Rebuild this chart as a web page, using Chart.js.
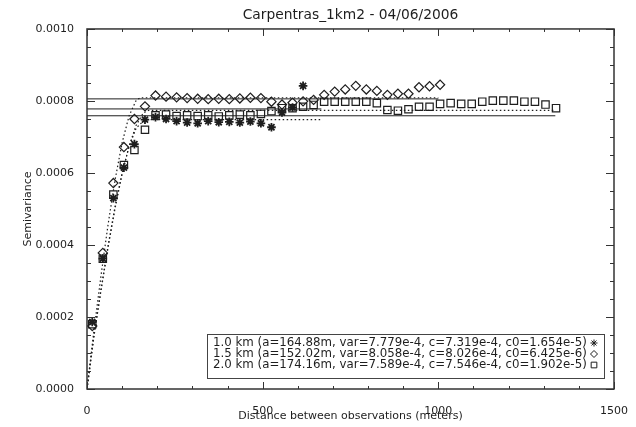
<!DOCTYPE html>
<html>
<head>
<meta charset="utf-8">
<script src="https://cdn.jsdelivr.net/npm/chart.js@4.4.1/dist/chart.umd.min.js"></script>
<style>
  html, body { margin: 0; padding: 0; background: #fff; }
  #wrap { width: 636px; height: 427px; }
</style>
</head>
<body>
<div id="wrap"><canvas id="vario" width="636" height="427"></canvas></div>
<script>
// window sizes and fitted spherical model parameters
var sizes = ['1.0 km', '1.5 km', '2.0 km'];
var ranges = [164.88, 152.02, 174.16];
var variances = [7.779e-4, 8.058e-4, 7.589e-4];
var sills = [7.319e-4, 8.026e-4, 7.546e-4];
var nuggets = [1.654e-5, 6.425e-6, 1.902e-5];
var maxLags = [667, 1000, 1333];

// experimental semivariogram, 1.0 km window
var lag10 = [15, 45, 75, 105, 135, 165, 195, 225, 255, 285, 315, 345, 375, 405, 435, 465, 495, 525, 555, 585, 615];
var gamma10 = [1.86e-4, 3.62e-4, 5.30e-4, 6.15e-4, 6.80e-4, 7.48e-4, 7.55e-4, 7.50e-4, 7.44e-4, 7.40e-4, 7.38e-4,
               7.44e-4, 7.41e-4, 7.42e-4, 7.40e-4, 7.43e-4, 7.38e-4, 7.27e-4, 7.68e-4, 7.82e-4, 8.42e-4];

// 1.5 km window
var lag15 = [15, 45, 75, 105, 135, 165, 195, 225, 255, 285, 315, 345, 375, 405, 435, 465, 495, 525, 555, 585, 615,
             645, 675, 705, 735, 765, 795, 825, 855, 885, 915, 945, 975, 1005];
var gamma15 = [1.75e-4, 3.78e-4, 5.72e-4, 6.72e-4, 7.50e-4, 7.85e-4, 8.15e-4, 8.12e-4, 8.10e-4, 8.08e-4, 8.06e-4,
               8.05e-4, 8.06e-4, 8.05e-4, 8.07e-4, 8.09e-4, 8.08e-4, 7.98e-4, 7.90e-4, 7.95e-4, 7.99e-4,
               8.03e-4, 8.17e-4, 8.26e-4, 8.32e-4, 8.42e-4, 8.32e-4, 8.28e-4, 8.17e-4, 8.20e-4, 8.20e-4,
               8.38e-4, 8.41e-4, 8.45e-4];

// 2.0 km window
var lag20 = [15, 45, 75, 105, 135, 165, 195, 225, 255, 285, 315, 345, 375, 405, 435, 465, 495, 525, 555, 585, 615,
             645, 675, 705, 735, 765, 795, 825, 855, 885, 915, 945, 975, 1005, 1035, 1065, 1095, 1125, 1155, 1185,
             1215, 1245, 1275, 1305, 1335];
var gamma20 = [1.80e-4, 3.62e-4, 5.40e-4, 6.22e-4, 6.64e-4, 7.20e-4, 7.60e-4, 7.62e-4, 7.58e-4, 7.60e-4, 7.58e-4,
               7.60e-4, 7.57e-4, 7.60e-4, 7.62e-4, 7.60e-4, 7.64e-4, 7.72e-4, 7.80e-4, 7.80e-4, 7.84e-4,
               7.89e-4, 7.98e-4, 7.98e-4, 7.98e-4, 7.98e-4, 7.98e-4, 7.94e-4, 7.75e-4, 7.73e-4, 7.77e-4,
               7.84e-4, 7.84e-4, 7.92e-4, 7.94e-4, 7.92e-4, 7.92e-4, 7.98e-4, 8.01e-4, 8.01e-4,
               8.01e-4, 7.98e-4, 7.98e-4, 7.90e-4, 7.80e-4];

// fitted models sampled along distance (flat at c0 + c beyond the range)
var modelDist10 = [0, 20, 40, 60, 80, 100, 120, 140, 164.88, 667];
var model10 = [0, 1.491e-4, 2.777e-4, 3.984e-4, 5.074e-4, 6.007e-4, 6.745e-4, 7.247e-4, 7.484e-4, 7.484e-4];
var modelDist15 = [0, 20, 40, 60, 80, 100, 120, 140, 152.02, 1000];
var model15 = [0, 1.639e-4, 3.159e-4, 4.569e-4, 5.815e-4, 6.841e-4, 7.594e-4, 8.017e-4, 8.090e-4, 8.090e-4];
var modelDist20 = [0, 20, 40, 60, 80, 100, 120, 140, 160, 174.16, 1333];
var model20 = [0, 1.484e-4, 2.744e-4, 3.935e-4, 5.024e-4, 5.975e-4, 6.755e-4, 7.329e-4, 7.663e-4, 7.736e-4, 7.736e-4];

var ink = '#1e1e1e';
var markers = ['star', 'rectRot', 'rect'];
var markerSize = [4.3, 4.6, 5.2];

function pts(xs, ys) {
  return xs.map(function (d, i) { return { x: d, y: ys[i] }; });
}

function legendText(i) {
  return sizes[i] + ' (a=' + ranges[i].toFixed(2) + 'm, var=' + variances[i].toExponential(3) +
    ', c=' + sills[i].toExponential(3) + ', c0=' + nuggets[i].toExponential(3) + ')';
}

var lags = [lag10, lag15, lag20];
var gammas = [gamma10, gamma15, gamma20];
var mDist = [modelDist10, modelDist15, modelDist20];
var mVal = [model10, model15, model20];

var datasets = [];
for (var i = 0; i < 3; i++) {
  // sample variance
  datasets.push({
    type: 'line', data: [{ x: 0, y: variances[i] }, { x: maxLags[i], y: variances[i] }],
    borderColor: ink, borderWidth: 1, pointRadius: 0, fill: false
  });
  // fitted spherical model
  datasets.push({
    type: 'line', data: pts(mDist[i], mVal[i]),
    borderColor: ink, borderWidth: 1.2, borderDash: [1.5, 2.5], pointRadius: 0, fill: false
  });
}
for (var j = 0; j < 3; j++) {
  datasets.push({
    label: legendText(j),
    data: pts(lags[j], gammas[j]),
    showLine: false,
    pointStyle: markers[j],
    pointRadius: markerSize[j],
    pointBorderWidth: j === 0 ? 1.8 : 1.2,
    pointBorderColor: ink,
    pointBackgroundColor: 'rgba(255,255,255,0)'
  });
}

// IDL-style box with inward major/minor ticks on all four sides
var frameTicks = {
  id: 'frameTicks',
  afterDraw: function (chart) {
    var ctx = chart.ctx, a = chart.chartArea;
    var xs = chart.scales.x, ys = chart.scales.y;
    ctx.save();
    ctx.strokeStyle = '#333';
    ctx.lineWidth = 1.5;
    ctx.strokeRect(a.left, a.top, a.right - a.left, a.bottom - a.top);
    ctx.lineWidth = 1;
    ctx.beginPath();
    for (var d = 0; d <= 1500; d += 100) {
      var px = Math.round(xs.getPixelForValue(d)) + 0.5;
      var lx = d % 500 === 0 ? 7 : 3;
      ctx.moveTo(px, a.bottom); ctx.lineTo(px, a.bottom - lx);
      ctx.moveTo(px, a.top); ctx.lineTo(px, a.top + lx);
    }
    for (var k = 0; k <= 20; k++) {
      var py = Math.round(ys.getPixelForValue(k * 0.00005)) + 0.5;
      var ly = k % 4 === 0 ? 8 : 4;
      ctx.moveTo(a.left, py); ctx.lineTo(a.left + ly, py);
      ctx.moveTo(a.right, py); ctx.lineTo(a.right - ly, py);
    }
    ctx.stroke();
    ctx.restore();
  }
};

// boxed legend in the lower right, symbol after each line
var boxLegend = {
  id: 'boxLegend',
  afterDraw: function (chart) {
    var ctx = chart.ctx;
    var bx = 207, by = 334, bw = 397, bh = 44;
    ctx.save();
    ctx.fillStyle = '#fff';
    ctx.fillRect(bx, by, bw, bh);
    ctx.strokeStyle = '#444';
    ctx.lineWidth = 1;
    ctx.strokeRect(bx + 0.5, by + 0.5, bw, bh);
    ctx.font = '11.8px "DejaVu Sans"';
    ctx.textBaseline = 'middle';
    var pointSets = chart.data.datasets.slice(6);
    pointSets.forEach(function (ds, n) {
      var ty = by + 9 + n * 11;
      ctx.fillStyle = ink;
      ctx.fillText(ds.label, bx + 6, ty);
      ctx.strokeStyle = ink;
      ctx.fillStyle = 'rgba(255,255,255,0)';
      Chart.helpers.drawPoint(ctx, {
        pointStyle: ds.pointStyle, radius: n === 2 ? 4 : 3.5, borderWidth: n === 0 ? 1.4 : 1, rotation: 0
      }, bx + bw - 10, ty);
    });
    ctx.restore();
  }
};

var axisFont = { family: 'DejaVu Sans', size: 11 };

new Chart(document.getElementById('vario'), {
  type: 'scatter',
  data: { datasets: datasets },
  options: {
    responsive: false,
    animation: false,
    devicePixelRatio: 1,
    layout: { padding: { left: 0, right: 22, top: 0, bottom: 0 } },
    plugins: {
      legend: { display: false },
      tooltip: { enabled: false },
      title: {
        display: true,
        fullSize: false,
        text: 'Carpentras_1km2 - 04/06/2006',
        color: ink,
        font: { family: 'DejaVu Sans', size: 13.8, weight: 'normal' },
        padding: { top: 7, bottom: 5.4 }
      }
    },
    scales: {
      x: {
        type: 'linear', min: 0, max: 1500,
        grid: { display: false }, border: { display: false },
        ticks: { stepSize: 500, padding: 8, maxRotation: 0, color: ink, font: axisFont,
                 callback: function (v) { return String(v); } },
        title: { display: true, text: 'Distance between observations (meters)', color: ink, font: axisFont, padding: { top: 0, bottom: 4 } },
        afterFit: function (s) { s.height = 38; }
      },
      y: {
        type: 'linear', min: 0, max: 0.001,
        grid: { display: false }, border: { display: false },
        ticks: { stepSize: 0.0002, padding: 5, color: ink, font: axisFont,
                 callback: function (v) { return v.toFixed(4); } },
        title: { display: true, text: 'Semivariance', color: ink, font: axisFont, padding: { top: 22, bottom: 0 } },
        afterFit: function (s) { s.width = 87; }
      }
    }
  },
  plugins: [frameTicks, boxLegend]
});
</script>
</body>
</html>
